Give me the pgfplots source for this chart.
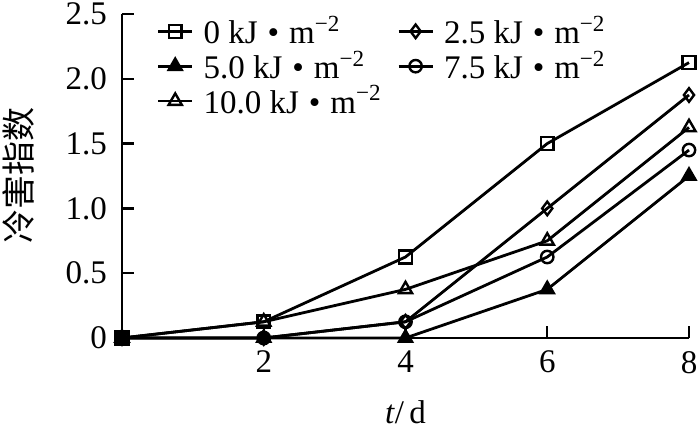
\documentclass[border=0pt]{standalone}
\usepackage{fontspec}
\setmainfont{Liberation Serif}
\newfontfamily\cjk{Noto Sans CJK SC}
\usepackage{pgfplots}
\pgfplotsset{compat=1.18}
\usetikzlibrary{calc}

\newcommand{\unit}[1]{#1 kJ\hspace{0.3em}•\hspace{0.3em}m\textsuperscript{−2}}

\begin{document}
\begin{tikzpicture}
\begin{axis}[
  name=ax,
  scale only axis, width=283.5pt, height=162pt,
  xmin=0, xmax=8, ymin=0, ymax=2.5,
  axis x line*=bottom, axis y line*=left,
  axis line style={-, line width=1.2pt},
  tick align=inside, major tick length=6pt,
  tick style={line width=1.2pt, black},
  xtick={2,4,6,8}, xticklabels={2,4,6,8},
  ytick={0,0.5,1,1.5,2,2.5}, yticklabels={0,0.5,1.0,1.5,2.0,2.5},
  tick label style={font=\fontsize{16.5}{18}\selectfont},
  xticklabel style={yshift=-3pt},
  yticklabel style={xshift=-4pt},
  xlabel={\textit{t}/\,d}, xlabel style={font=\fontsize{16.5}{18}\selectfont, yshift=-7pt},
  ylabel={\cjk 冷害指数}, ylabel style={font=\fontsize{17}{18}\selectfont, yshift=9pt},
  clip=false,
  every axis plot/.append style={black, line width=1.4pt, mark options={solid, line width=1.2pt}},
  legend columns=2,
  legend style={draw=none, fill=none, at={(0.05,1.02)}, anchor=north west,
    font=\fontsize{16.5}{16}\selectfont, row sep=-2pt,
    /tikz/every odd column/.append style={column sep=3pt},
    /tikz/every even column/.append style={column sep=14pt}},
  legend cell align=left,
]
\addplot[mark=square, mark size=3.2pt] coordinates {(0,0) (2,0.125) (4,0.625) (6,1.5) (8,2.125)};
\addlegendentry{\unit{0}}
\addplot[mark=diamond, mark size=3.4pt] coordinates {(0,0) (2,0) (4,0.125) (6,1.0) (8,1.875)};
\addlegendentry{\unit{2.5}}
\addplot[mark=triangle*, mark size=3.8pt] coordinates {(0,0) (2,0) (4,0) (6,0.375) (8,1.25)};
\addlegendentry{\unit{5.0}}
\addplot[mark=o, mark size=3.1pt] coordinates {(0,0) (2,0) (4,0.125) (6,0.625) (8,1.45)};
\addlegendentry{\unit{7.5}}
\addplot[mark=triangle, mark size=3.8pt] coordinates {(0,0) (2,0.125) (4,0.375) (6,0.75) (8,1.625)};
\addlegendentry{\rlap{\unit{10.0}}\phantom{\unit{5.0}}}
\end{axis}
\pgfresetboundingbox
\path[use as bounding box] ($(ax.south west)+(-61pt,-49pt)$) rectangle ($(ax.north east)+(5.5pt,7pt)$);
\end{tikzpicture}
\end{document}
